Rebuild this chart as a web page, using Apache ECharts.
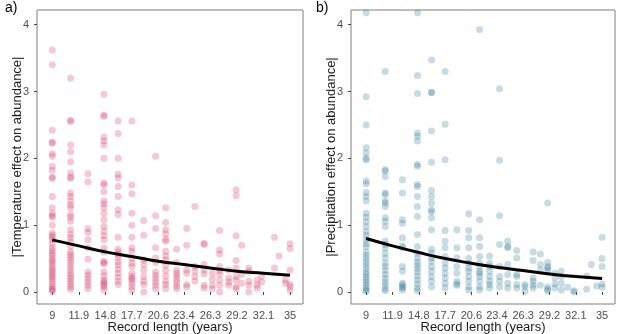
<!DOCTYPE html>
<html>
<head>
<meta charset="utf-8">
<title>Record length</title>
<script src="https://cdn.jsdelivr.net/npm/echarts@6/dist/echarts.min.js"></script>
<style>
  html, body { margin: 0; padding: 0; background: #fff; }
  #main { width: 617px; height: 334px; }
</style>
</head>
<body>
<div id="main"></div>
<script>
// tick labels shared by both panels
var xTicks = [9, 11.9, 14.8, 17.7, 20.6, 23.4, 26.3, 29.2, 32.1, 35];
var yTicks = [0, 1, 2, 3, 4];

// a) temperature: record length of each column and the effects in it
var tempCols = [9, 11, 12.9, 14.65, 16.2, 17.7, 19, 20.3, 21.4, 22.6, 23.7, 24.6, 25.6,
                26.5, 27.3, 28.3, 29.1, 29.7, 30.5, 31.4, 31.9, 33.3, 33.8, 34.5, 35];
var tempVals = [
  [3.62, 3.40, 2.42, 2.24, 2.23, 2.07, 2.03, 1.88, 1.82, 1.72, 1.70, 1.43, 1.26, 1.18, 1.14, 1.12, 1.0, 0.88, 0.85, 0.82, 0.78, 0.72, 0.66, 0.62, 0.58, 0.55, 0.5, 0.47, 0.44, 0.4, 0.36, 0.33, 0.3, 0.26, 0.23, 0.2, 0.16, 0.12, 0.08, 0.05, 0.03, 0.01],
  [3.2, 2.57, 2.55, 2.2, 2.1, 1.95, 1.78, 1.72, 1.70, 1.48, 1.43, 1.36, 1.3, 1.26, 1.16, 1.12, 1.06, 0.93, 0.86, 0.81, 0.75, 0.68, 0.6, 0.56, 0.52, 0.48, 0.43, 0.38, 0.33, 0.28, 0.24, 0.2, 0.16, 0.12, 0.08, 0.04],
  [1.77, 1.65, 0.95, 0.89, 0.78, 0.66, 0.49, 0.30, 0.25, 0.2, 0.15, 0.1, 0.05],
  [2.96, 2.65, 2.63, 2.32, 2.26, 2.2, 2.0, 1.63, 1.6, 1.5, 1.36, 1.32, 1.26, 1.18, 1.08, 0.98, 0.91, 0.84, 0.78, 0.66, 0.6, 0.46, 0.44, 0.42, 0.3, 0.24, 0.18, 0.15, 0.13, 0.1, 0.08, 0.03],
  [2.56, 2.37, 2.0, 1.76, 1.71, 1.58, 1.43, 1.23, 1.16, 0.82, 0.64, 0.6, 0.56, 0.52, 0.45, 0.4, 0.34, 0.28, 0.22, 0.16, 0.11],
  [2.56, 1.6, 1.47, 1.18, 1.0, 0.82, 0.66, 0.61, 0.5, 0.43, 0.38, 0.28, 0.23, 0.2, 0.18, 0.13, 0.08, 0.03],
  [1.07, 0.85, 0.48, 0.41, 0.33, 0.23, 0.16, 0.11, 0.0],
  [2.03, 1.14, 0.95, 0.66, 0.51, 0.44, 0.3, 0.25, 0.2, 0.15, 0.1, 0.05],
  [1.26, 1.04, 0.93, 0.87, 0.79, 0.76, 0.61, 0.54, 0.48, 0.4, 0.32, 0.24, 0.16, 0.11, 0.05],
  [0.64, 0.44, 0.33, 0.28, 0.24, 0.19, 0.14, 0.09, 0.05],
  [0.95, 0.7, 0.33, 0.28, 0.11, 0.08],
  [1.28, 0.38, 0.31, 0.23, 0.16],
  [0.73, 0.71, 0.41, 0.33, 0.27, 0.1, 0.06],
  [0.28, 0.19, 0.1, 0.05],
  [0.92, 0.63, 0.57, 0.38, 0.32, 0.27, 0.18, 0.1, 0.0],
  [0.33, 0.21, 0.15, 0.1],
  [1.53, 1.44, 0.84, 0.47, 0.36, 0.23, 0.18, 0.08, 0.05],
  [0.7, 0.26, 0.13],
  [0.36, 0.31, 0.16, 0.1, 0.0],
  [0.18, 0.1, 0.06],
  [0.23, 0.15],
  [0.82, 0.36],
  [0.54],
  [0.18, 0.13],
  [0.72, 0.65, 0.33, 0.11, 0.08, 0.02]
];
var tempFit = [0.78, 0.69, 0.60, 0.53, 0.46, 0.41, 0.36, 0.31, 0.28, 0.25];

// b) precipitation
var precCols = [9, 11.1, 13, 14.65, 16.2, 17.7, 19, 20.3, 21.5, 22.6, 23.7, 24.6, 25.6,
                26.5, 27.4, 28.2, 29, 29.8, 30.5, 31.2, 31.9, 33.3, 33.8, 34.4, 35];
var precVals = [
  [4.18, 2.92, 2.5, 2.16, 2.08, 2.0, 1.98, 1.66, 1.62, 1.49, 1.43, 1.36, 1.18, 1.12, 1.05, 0.98, 0.9, 0.85, 0.78, 0.72, 0.68, 0.6, 0.55, 0.5, 0.45, 0.4, 0.35, 0.3, 0.26, 0.22, 0.18, 0.14, 0.1, 0.06, 0.03, 0.01],
  [3.3, 1.83, 1.81, 1.73, 1.48, 1.46, 1.36, 1.33, 1.28, 1.11, 1.06, 0.98, 0.76, 0.71, 0.66, 0.58, 0.51, 0.43, 0.38, 0.32, 0.26, 0.2, 0.15, 0.1, 0.05, 0.02],
  [1.68, 1.48, 1.08, 1.03, 0.81, 0.69, 0.66, 0.38, 0.31, 0.13, 0.11, 0.08, 0.06, 0.03],
  [4.18, 3.24, 2.97, 2.38, 2.33, 2.26, 1.91, 1.88, 1.61, 1.58, 1.43, 1.28, 1.13, 0.86, 0.68, 0.58, 0.51, 0.45, 0.4, 0.35, 0.3, 0.24, 0.18, 0.12, 0.06, 0.02],
  [3.47, 2.99, 2.98, 2.41, 1.94, 1.52, 1.43, 1.33, 1.23, 1.2, 1.11, 0.93, 0.64, 0.58, 0.51, 0.46, 0.38, 0.31, 0.23, 0.16, 0.08],
  [3.3, 2.51, 1.98, 0.92, 0.76, 0.66, 0.53, 0.43, 0.36, 0.28, 0.21, 0.13, 0.06],
  [0.93, 0.66, 0.51, 0.38, 0.28, 0.16, 0.12, 0.1],
  [1.17, 0.92, 0.81, 0.66, 0.5, 0.43, 0.36, 0.31, 0.23, 0.16, 0.08, 0.03],
  [3.93, 1.08, 0.81, 0.68, 0.53, 0.43, 0.38, 0.31, 0.28, 0.23, 0.16, 0.08, 0.03],
  [0.54, 0.43, 0.38, 0.31, 0.23, 0.16, 0.11, 0.06],
  [3.04, 1.97, 1.14, 0.71, 0.38, 0.23, 0.16, 0.08],
  [0.76, 0.68, 0.66, 0.41, 0.26, 0.13, 0.06],
  [0.62, 0.51, 0.26, 0.23, 0.11, 0.06],
  [0.11, 0.08, 0.01],
  [0.6, 0.47, 0.21, 0.16, 0.1, 0.06],
  [0.57, 0.41, 0.33, 0.1],
  [1.33, 0.44, 0.38, 0.36, 0.32, 0.08, 0.04, 0.02],
  [0.28, 0.21, 0.12, 0.06],
  [0.31, 0.23, 0.13, 0.03],
  [0.07],
  [0.02, 0.0],
  [0.24, 0.04],
  [0.41],
  [0.09],
  [0.82, 0.5, 0.38, 0.12, 0.07]
];
var precFit = [0.80, 0.69, 0.59, 0.50, 0.43, 0.37, 0.32, 0.27, 0.23, 0.20];

function toPoints(cols, vals) {
  var out = [];
  cols.forEach(function (x, i) {
    vals[i].forEach(function (y) { out.push([x, y]); });
  });
  return out;
}
function toLine(ys) {
  return xTicks.map(function (x, i) { return [x, ys[i]]; });
}

function xAxis(idx) {
  return {
    type: 'value', gridIndex: idx, min: 7.33, max: 36.42,
    name: 'Record length (years)', nameLocation: 'middle', nameGap: 17, nameMoveOverlap: false,
    nameTextStyle: { fontSize: 13, color: '#1a1a1a', fontFamily: 'Liberation Sans', verticalAlign: 'top' },
    splitLine: { show: false },
    axisLine: { show: false },
    axisTick: { show: true, length: 3, lineStyle: { color: '#444' }, customValues: xTicks },
    axisLabel: { fontSize: 11, color: '#4d4d4d', margin: 6, fontFamily: 'Liberation Sans',
                 customValues: xTicks, formatter: function (v) { return String(v); } }
  };
}
function yAxis(idx, name) {
  return {
    type: 'value', gridIndex: idx, min: -0.18, max: 4.22,
    name: name, nameLocation: 'middle', nameGap: 13, nameMoveOverlap: false,
    nameTextStyle: { fontSize: 13, color: '#1a1a1a', fontFamily: 'Liberation Sans' },
    splitLine: { show: false },
    axisLine: { show: false },
    axisTick: { show: true, length: 3, lineStyle: { color: '#444' }, customValues: yTicks },
    axisLabel: { fontSize: 11, color: '#4d4d4d', margin: 8, fontFamily: 'Liberation Sans',
                 customValues: yTicks }
  };
}

var myChart = echarts.init(document.getElementById('main'));
var option = {
  animation: false,
  backgroundColor: '#fff',
  title: [
    { text: 'a)', left: 0, top: -4, textStyle: { fontSize: 14, fontWeight: 'normal', color: '#000', fontFamily: 'Liberation Sans' } },
    { text: 'b)', left: 311, top: -4, textStyle: { fontSize: 14, fontWeight: 'normal', color: '#000', fontFamily: 'Liberation Sans' } }
  ],
  grid: [
    { left: 37, top: 10, width: 266, height: 294, outerBoundsMode: 'none', show: true, borderColor: '#7f7f7f', borderWidth: 1, backgroundColor: 'transparent' },
    { left: 351, top: 10, width: 264, height: 294, outerBoundsMode: 'none', show: true, borderColor: '#7f7f7f', borderWidth: 1, backgroundColor: 'transparent' }
  ],
  xAxis: [xAxis(0), xAxis(1)],
  yAxis: [yAxis(0, '|Temperature effect on abundance|'), yAxis(1, '|Precipitation effect on abundance|')],
  series: [
    {
      type: 'scatter', xAxisIndex: 0, yAxisIndex: 0, symbolSize: 7,
      itemStyle: { color: 'rgba(218,64,110,0.36)' },
      data: toPoints(tempCols, tempVals)
    },
    {
      type: 'line', xAxisIndex: 0, yAxisIndex: 0, smooth: true, showSymbol: false,
      lineStyle: { color: '#000', width: 3 },
      data: toLine(tempFit)
    },
    {
      type: 'scatter', xAxisIndex: 1, yAxisIndex: 1, symbolSize: 7,
      itemStyle: { color: 'rgba(40,115,148,0.32)' },
      data: toPoints(precCols, precVals)
    },
    {
      type: 'line', xAxisIndex: 1, yAxisIndex: 1, smooth: true, showSymbol: false,
      lineStyle: { color: '#000', width: 3 },
      data: toLine(precFit)
    }
  ]
};
myChart.setOption(option);
</script>
</body>
</html>
